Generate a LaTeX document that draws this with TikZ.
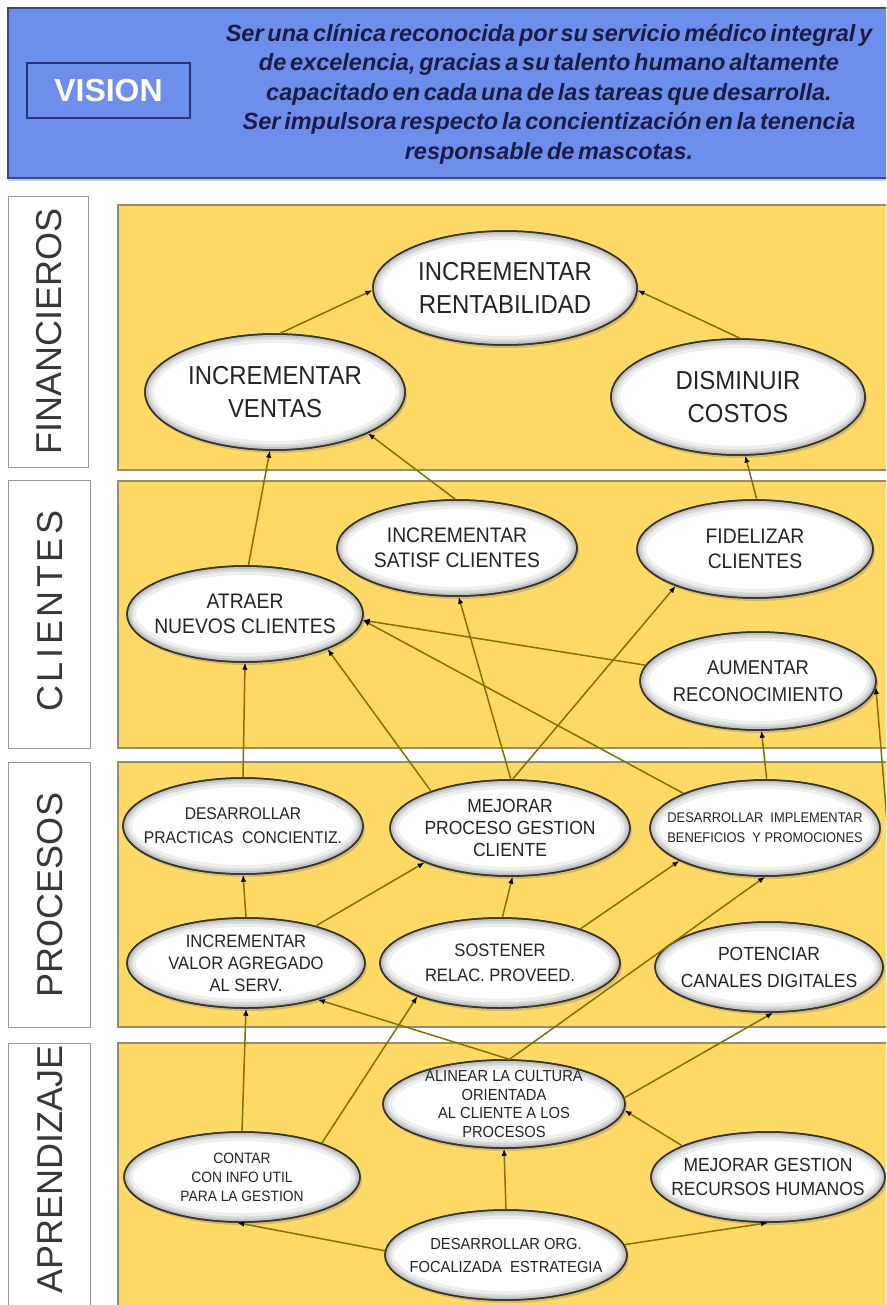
\documentclass[tikz,border=0pt]{standalone}
\usepackage{fontspec}
\setmainfont{Liberation Sans}
\newfontfamily\nar[FakeStretch=0.92]{Liberation Sans}
\usetikzlibrary{shapes.geometric,arrows.meta,shadows}
\definecolor{bandyellow}{RGB}{255,217,102}
\definecolor{bandborder}{RGB}{150,140,108}
\definecolor{headblue}{RGB}{110,142,236}
\definecolor{headborder}{RGB}{58,72,125}
\definecolor{visnavy}{RGB}{40,52,120}
\definecolor{vistext}{RGB}{25,28,70}
\definecolor{linecol}{RGB}{130,112,0}
\definecolor{ellborder}{RGB}{55,52,40}
\definecolor{elltext}{RGB}{35,35,40}
\definecolor{rimgray}{RGB}{90,90,90}
\definecolor{lblborder}{RGB}{150,150,150}
\definecolor{lbltext}{RGB}{55,55,55}
\newcommand{\tightspace}{\spaceskip=0.16em plus 0.05em\relax}
\tikzset{
  obj/.style={ellipse, inner xsep=-70pt, inner ysep=-25pt, draw=ellborder, line width=1.5pt, fill=white,
    drop shadow={opacity=0.35, shadow xshift=2pt, shadow yshift=-3pt},
    align=center, text=elltext},
  rimring/.style={draw=rimgray},
  objborder/.style={draw=ellborder, line width=1.5pt},
  link/.style={draw=linecol, line width=1.5pt, -{Latex[length=7pt,width=5.5pt,color=black]}},
  band/.style={fill=bandyellow, draw=bandborder, line width=1.2pt},
  lblbox/.style={draw=lblborder, fill=white, line width=1pt},
  lbltxt/.style={rotate=90, text=lbltext, font=\fontsize{36}{40}\selectfont, inner sep=0pt},
}
\newcommand{\fsz}[2]{\nar\fontsize{#1}{#2}\selectfont}
% name, x, y, width, height, font size, baseline skip, text
\newcommand{\objnode}[8]{%
  \node[obj, minimum width=#4pt, minimum height=#5pt, font=\fsz{#6}{#7}] (#1) at (#2,#3) {#8};
  \begin{scope}
    \clip (#1.center) ellipse [x radius={#4/2}, y radius={#5/2}];
    \draw[rimring, line width=18pt, opacity=0.10] (#1.center) ellipse [x radius={#4/2}, y radius={#5/2}];
    \draw[rimring, line width=11pt, opacity=0.14] (#1.center) ellipse [x radius={#4/2}, y radius={#5/2}];
    \draw[rimring, line width=6pt, opacity=0.18] (#1.center) ellipse [x radius={#4/2}, y radius={#5/2}];
  \end{scope}
  \draw[objborder] (#1.center) ellipse [x radius={#4/2}, y radius={#5/2}];
}
\begin{document}
\begin{tikzpicture}[x=1pt,y=-1pt]
\useasboundingbox (0,0) rectangle (886,1305);
\clip (0,0) rectangle (886,1305);
\fill[white] (0,0) rectangle (886,1305);

% header
\path[fill=headblue, draw=headborder, line width=1.3pt, drop shadow={opacity=0.4, shadow xshift=0pt, shadow yshift=-3pt}] (8,8) rectangle (905,178);
\node[draw=visnavy, line width=2pt, fill=headblue, minimum width=163pt, minimum height=55pt, inner sep=0pt,
  text=white, font=\bfseries\fontsize{32}{36}\selectfont] (vision) at (108.5,90.5) {VISION};
\node[align=center, text=vistext, font=\bfseries\itshape\fontsize{23.5}{29.5}\selectfont\tightspace] (vtext) at (549,94)
 {Ser una clínica reconocida por su servicio médico integral y\\
  de excelencia, gracias a su talento humano altamente\\
  capacitado en cada una de las tareas que desarrolla.\\
  Ser impulsora respecto la concientización en la tenencia\\
  responsable de mascotas.};

% bands
\path[band] (118,205) rectangle (905,470);
\path[band] (118,481) rectangle (905,748);
\path[band] (118,762) rectangle (905,1027);
\path[band] (118,1043) rectangle (905,1320);

% label boxes
\node[lblbox, minimum width=80pt, minimum height=270pt] (bfin) at (48,332) {};
\node[lblbox, minimum width=82pt, minimum height=268pt] (bcli) at (49,614) {};
\node[lblbox, minimum width=82pt, minimum height=265pt] (bpro) at (49,894.5) {};
\node[lblbox, minimum width=82pt, minimum height=280pt] (bapr) at (49,1183) {};
\node[lbltxt] (tfin) at (49,331) {FINANCIEROS};
\node[lbltxt] (tcli) at (50,611) {\addfontfeature{LetterSpace=10}CLIENTES};
\node[lbltxt] (tpro) at (50,895) {PROCESOS};
\node[lbltxt] (tapr) at (50,1169) {APRENDIZAJE};

% objectives
\objnode{rent}{505}{288}{264}{114}{26}{33}{INCREMENTAR\\RENTABILIDAD}
\objnode{ventas}{275}{392}{260}{116}{26}{33}{INCREMENTAR\\VENTAS}
\objnode{costos}{738}{397}{254}{116}{26}{33}{DISMINUIR\\COSTOS}

\objnode{satisf}{457}{548}{240}{96}{21}{25}{INCREMENTAR\\SATISF CLIENTES}
\objnode{fidel}{755}{549}{236}{98}{21}{25}{FIDELIZAR\\CLIENTES}
\objnode{atraer}{245}{614}{236}{96}{21}{25}{ATRAER\\NUEVOS CLIENTES}
\objnode{aument}{758}{681}{236}{98}{20}{27}{AUMENTAR\\RECONOCIMIENTO}

\objnode{dprac}{243}{826}{240}{96}{17}{24}{DESARROLLAR\\PRACTICAS\ \ CONCIENTIZ.}
\objnode{mejproc}{510}{828}{240}{96}{19}{22}{MEJORAR\\PROCESO GESTION\\CLIENTE}
\objnode{dimpl}{765}{828}{230}{96}{14}{20}{DESARROLLAR\ \ IMPLEMENTAR\\BENEFICIOS\ \ Y PROMOCIONES}
\objnode{incval}{246}{963}{238}{90}{18}{22}{INCREMENTAR\\VALOR AGREGADO\\AL SERV.}
\objnode{sosten}{500}{963}{240}{90}{18}{25}{SOSTENER\\RELAC. PROVEED.}
\objnode{poten}{769}{967}{228}{90}{19}{27}{POTENCIAR\\CANALES DIGITALES}

\objnode{alinear}{504}{1104}{242}{88}{16}{18.5}{ALINEAR LA CULTURA\\ORIENTADA\\AL CLIENTE A LOS\\PROCESOS}
\objnode{contar}{242}{1177}{236}{90}{15}{19}{CONTAR\\CON INFO UTIL\\PARA LA GESTION}
\objnode{mejrh}{768}{1177}{234}{90}{19}{24}{MEJORAR GESTION\\RECURSOS HUMANOS}
\objnode{dorg}{506}{1255}{242}{90}{16}{23}{DESARROLLAR ORG.\\FOCALIZADA\ \ ESTRATEGIA}

\coordinate (offr) at (902,1000);

% connectors
\draw[link] (ventas.85) -- (rent.181);
\draw[link] (costos.88) -- (rent.359);
\draw[link] (atraer.86) -- (ventas.265);
\draw[link] (satisf.92) -- (ventas.336);
\draw[link] (fidel.88) -- (costos.277);
\draw[link] (aument.172) -- (atraer.357);
\draw[link] (dprac.90) -- (atraer.270);
\draw[link] (mejproc.155) -- (atraer.337);
\draw[link] (mejproc.89) -- (satisf.272);
\draw[link] (mejproc.87) -- (fidel.205);
\draw[link] (dimpl.157) -- (atraer.357);
\draw[link] (dimpl.88) -- (aument.274);
\draw[link] (offr) -- (aument.357);
\draw[link] (incval.90) -- (dprac.270);
\draw[link] (incval.28) -- (mejproc.202);
\draw[link] (sosten.87) -- (mejproc.273);
\draw[link] (sosten.23) -- (dimpl.201);
\draw[link] (alinear.83) -- (dimpl.270);
\draw[link] (alinear.83) -- (incval.333);
\draw[link] (contar.90) -- (incval.270);
\draw[link] (contar.23) -- (sosten.202);
\draw[link] (alinear.3) -- (poten.275);
\draw[link] (mejrh.160) -- (alinear.357);
\draw[link] (dorg.90) -- (alinear.270);
\draw[link] (dorg.178) -- (contar.264);
\draw[link] (dorg.5) -- (mejrh.270);
\end{tikzpicture}
\end{document}
